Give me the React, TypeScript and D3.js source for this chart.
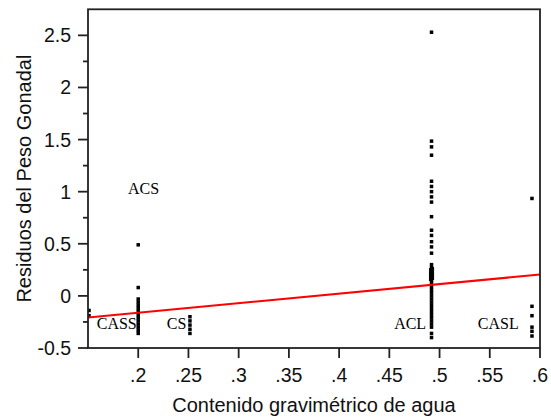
import React from "react";
import * as d3 from "d3";

const W = 551;
const H = 420;

// Groups of residuals by x (water content)
const groupX = [0.151, 0.2, 0.2515, 0.492, 0.592, 0.4912, 0.4928];
const groupLeftEdge = [-0.14, -0.19];
const groupCASS = [0.49, 0.08, -0.03, -0.06, -0.09, -0.12, -0.15, -0.18, -0.21, -0.24, -0.27, -0.3, -0.33, -0.36];
const groupCS = [-0.2, -0.24, -0.28, -0.32, -0.36];
const groupACL = [
  2.53, 1.485, 1.43, 1.35, 1.1, 1.05, 1.0, 0.95, 0.9, 0.76, 0.63, 0.58, 0.52, 0.47, 0.41,
  0.3, 0.27, 0.24, 0.21, 0.19, 0.17, 0.15, 0.12, 0.09, 0.06, 0.03, 0.0, -0.03, -0.06, -0.09,
  -0.12, -0.15, -0.18, -0.21, -0.24, -0.27, -0.3, -0.36, -0.4,
];
const groupCASL = [0.935, -0.1, -0.19, -0.3, -0.34, -0.385];
const groupACLleft = [0.16, 0.19, 0.22, 0.25];
const groupACLright = [0.17, 0.2, 0.23, 0.26];
const groupValues = [groupLeftEdge, groupCASS, groupCS, groupACL, groupCASL, groupACLleft, groupACLright];

// regression line endpoints
const fitX = [0.15, 0.6];
const fitY = [-0.207, 0.205];

// annotations
const labelText = ["ACS", "CASS", "CS", "ACL", "CASL"];
const labelX = [0.1898, 0.1587, 0.2284, 0.4548, 0.5381];
const labelY = [0.973, -0.322, -0.313, -0.32, -0.32];

const yMajor = [-0.5, 0, 0.5, 1, 1.5, 2, 2.5];
const yMajorLabels = ["-0.5", "0", "0.5", "1", "1.5", "2", "2.5"];
const yMinor = [-0.25, 0.25, 0.75, 1.25, 1.75, 2.25];
const xTicks = [0.2, 0.25, 0.3, 0.35, 0.4, 0.45, 0.5, 0.55, 0.6];
const xTickLabels = [".2", ".25", ".3", ".35", ".4", ".45", ".5", ".55", ".6"];

const margin = { left: 88, right: 540, top: 9.3, bottom: 348 };

export default function App() {
  const x = d3.scaleLinear().domain([0.15, 0.6]).range([margin.left, margin.right]);
  const y = d3.scaleLinear().domain([-0.5, 2.75]).range([margin.bottom, margin.top]);
  const sz = 3.5;
  const sans = "Arial, 'Liberation Sans', sans-serif";
  const serif = "'Times New Roman', 'Liberation Serif', serif";
  const line = d3
    .line<number>()
    .x((_, i) => x(fitX[i]))
    .y((d) => y(d));

  return (
    <svg
      width={W}
      height={H}
      style={{ position: "absolute", left: 0, top: 0, background: "#fff" }}
    >
      <defs>
        <clipPath id="plotclip">
          <rect
            x={margin.left}
            y={margin.top}
            width={margin.right - margin.left}
            height={margin.bottom - margin.top}
          />
        </clipPath>
      </defs>
      <g clipPath="url(#plotclip)">
        {groupValues.map((vals, gi) =>
          vals.map((v, i) => (
            <rect
              key={`${gi}-${i}`}
              x={x(groupX[gi]) - sz / 2}
              y={y(v) - sz / 2}
              width={sz}
              height={sz}
              fill="#000"
            />
          ))
        )}
        <path d={line(fitY) || ""} stroke="#ff0000" strokeWidth={2} fill="none" />
      </g>
      {labelText.map((t, i) => (
        <text
          key={t}
          x={x(labelX[i])}
          y={y(labelY[i])}
          fontFamily={serif}
          fontSize={16}
          fill="#000"
        >
          {t}
        </text>
      ))}
      <rect
        x={margin.left}
        y={margin.top}
        width={margin.right - margin.left}
        height={margin.bottom - margin.top}
        fill="none"
        stroke="#222"
        strokeWidth={1.8}
      />
      {yMajor.map((v, i) => (
        <g key={`ym${i}`}>
          <line x1={margin.left - 10} x2={margin.left} y1={y(v)} y2={y(v)} stroke="#222" strokeWidth={1.8} />
          <text
            x={71}
            y={y(v)}
            dy="0.36em"
            textAnchor="end"
            fontFamily={sans}
            fontSize={19.5}
            fill="#111"
          >
            {yMajorLabels[i]}
          </text>
        </g>
      ))}
      {yMinor.map((v, i) => (
        <line key={`yn${i}`} x1={margin.left - 5} x2={margin.left} y1={y(v)} y2={y(v)} stroke="#222" strokeWidth={1.8} />
      ))}
      {xTicks.map((v, i) => (
        <g key={`xt${i}`}>
          <line x1={x(v)} x2={x(v)} y1={margin.bottom} y2={margin.bottom + 10} stroke="#222" strokeWidth={1.8} />
          <text x={x(v)} y={382} textAnchor="middle" fontFamily={sans} fontSize={19.5} fill="#111">
            {xTickLabels[i]}
          </text>
        </g>
      ))}
      <text
        x={(margin.left + margin.right) / 2}
        y={412}
        textAnchor="middle"
        fontFamily={sans}
        fontSize={20}
        fill="#111"
      >
        Contenido gravimétrico de agua
      </text>
      <text
        transform={`translate(31, ${(margin.top + margin.bottom) / 2}) rotate(-90)`}
        textAnchor="middle"
        fontFamily={sans}
        fontSize={20}
        fill="#111"
      >
        Residuos del Peso Gonadal
      </text>
    </svg>
  );
}
